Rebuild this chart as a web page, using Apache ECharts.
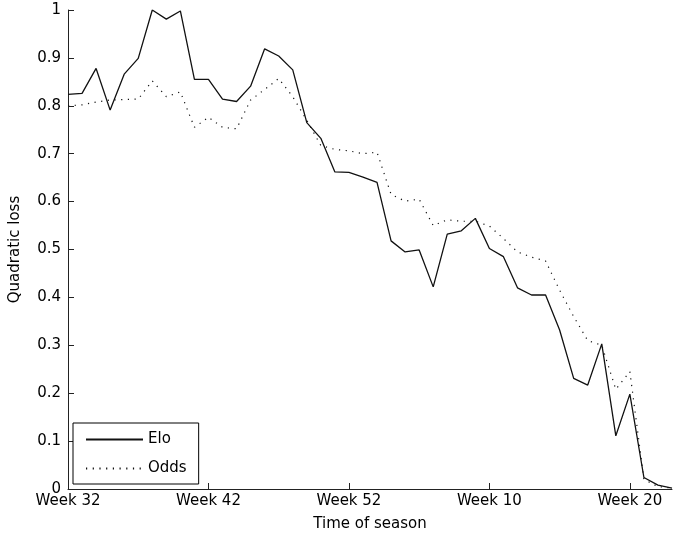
<!DOCTYPE html>
<html>
<head>
<meta charset="utf-8">
<script src="https://cdn.jsdelivr.net/npm/echarts@6/dist/echarts.min.js"></script>
<style>
html,body{margin:0;padding:0;background:#fff;}
#chart{width:673px;height:537px;}
</style>
</head>
<body>
<div id="chart"></div>
<script>
const weeks = ["Week 32","Week 33","Week 34","Week 35","Week 36","Week 37","Week 38","Week 39","Week 40","Week 41",
"Week 42","Week 43","Week 44","Week 45","Week 46","Week 47","Week 48","Week 49","Week 50","Week 51",
"Week 52","Week 1","Week 2","Week 3","Week 4","Week 5","Week 6","Week 7","Week 8","Week 9",
"Week 10","Week 11","Week 12","Week 13","Week 14","Week 15","Week 16","Week 17","Week 18","Week 19",
"Week 20","Week 21","Week 22","Week 23"];
const elo = [0.824,0.826,0.878,0.791,0.866,0.899,1.0,0.981,0.998,0.855,
0.855,0.814,0.809,0.841,0.919,0.904,0.875,0.765,0.732,0.662,
0.661,0.651,0.640,0.518,0.495,0.499,0.422,0.532,0.539,0.565,
0.502,0.485,0.420,0.405,0.405,0.332,0.231,0.217,0.303,0.111,
0.198,0.024,0.008,0.002];
const odds = [0.800,0.802,0.808,0.812,0.813,0.814,0.852,0.819,0.829,0.755,
0.776,0.755,0.752,0.812,0.834,0.857,0.819,0.770,0.717,0.709,
0.706,0.700,0.703,0.615,0.601,0.605,0.550,0.562,0.559,0.559,
0.549,0.523,0.495,0.484,0.476,0.415,0.360,0.310,0.300,0.208,
0.245,0.020,0.005,0.002];
const yTicks = ["0","0.1","0.2","0.3","0.4","0.5","0.6","0.7","0.8","0.9","1"];

const font = "DejaVu Sans";
const chart = echarts.init(document.getElementById('chart'), null, {renderer:'canvas'});
chart.setOption({
  animation:false,
  backgroundColor:'#fff',
  grid:{left:64, right:1, top:10, bottom:48, containLabel:false},
  legend:{
    left:73, top:423, orient:'vertical',
    itemWidth:57, itemHeight:14, itemGap:14,
    padding:[9,12,8,12],
    borderColor:'#000', borderWidth:1, backgroundColor:'#fff',
    itemStyle:{color:'rgba(0,0,0,0)', borderColor:'rgba(0,0,0,0)', borderWidth:0},
    textStyle:{fontFamily:font, fontSize:15, color:'#000'},
    data:[{name:'Elo'},{name:'Odds'}]
  },
  xAxis:{
    type:'category', data:weeks, boundaryGap:false,
    name:'Time of season', nameLocation:'middle', nameGap:28,
    nameTextStyle:{fontFamily:font, fontSize:15, color:'#000'},
    axisLine:{lineStyle:{color:'#222', width:1}},
    axisTick:{inside:true, length:6, interval:9, lineStyle:{color:'#222'}},
    axisLabel:{interval:9, fontFamily:font, fontSize:15, color:'#000', margin:5},
    splitLine:{show:false}
  },
  yAxis:{
    type:'value', min:0, max:1, interval:0.1,
    name:'Quadratic loss', nameLocation:'middle', nameGap:45,
    nameTextStyle:{fontFamily:font, fontSize:15, color:'#000'},
    axisLine:{show:true, lineStyle:{color:'#222', width:1}},
    axisTick:{show:true, inside:true, length:6, lineStyle:{color:'#222'}},
    axisLabel:{fontFamily:font, fontSize:15, color:'#000', margin:7,
      formatter:function(v){ return yTicks[Math.round(v*10)]; }},
    splitLine:{show:false}
  },
  series:[
    {name:'Elo', type:'line', data:elo, symbol:'none', showSymbol:false,
     lineStyle:{color:'#111', width:1.3, type:'solid'}, itemStyle:{color:'#111'}},
    {name:'Odds', type:'line', data:odds, symbol:'none', showSymbol:false,
     lineStyle:{color:'#111', width:1.2, type:[1.2,5.5]}, itemStyle:{color:'#111'}}
  ]
});
</script>
</body>
</html>
